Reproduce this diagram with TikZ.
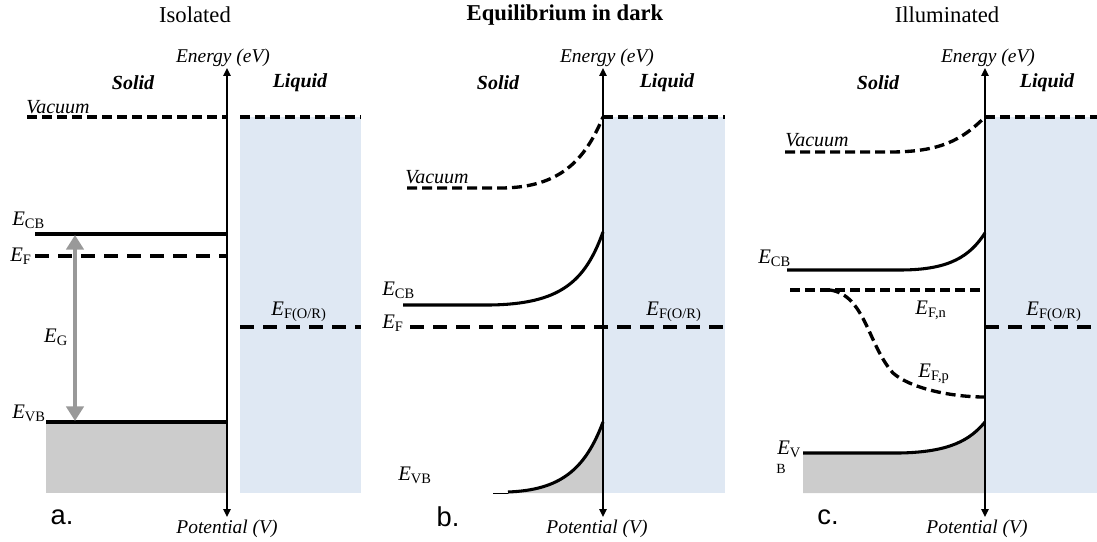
\documentclass[tikz,border=0pt]{standalone}
\usepackage{fontspec}
\setmainfont{Liberation Serif}
\newfontfamily\panelfont{Liberation Sans}
\usetikzlibrary{arrows.meta}
\definecolor{liquidblue}{RGB}{223,232,243}
\definecolor{bandgray}{RGB}{204,204,204}
\definecolor{arrowgray}{RGB}{153,153,153}
\newcommand{\En}[1]{\textit{E}\textsubscript{#1}}
\begin{document}
\begin{tikzpicture}[x=0.75pt,y=-0.75pt,
  lbl/.style={inner sep=0pt, font=\fontsize{15.5}{18}\selectfont},
  ilbl/.style={inner sep=0pt, font=\fontsize{15}{18}\selectfont\itshape},
  ttl/.style={inner sep=0pt, font=\fontsize{17}{20}\selectfont},
  axlbl/.style={inner sep=0pt, font=\fontsize{14.6}{17}\selectfont\itshape},
  phase/.style={inner sep=0pt, font=\fontsize{15}{18}\selectfont\bfseries\itshape},
  panel/.style={inner sep=0pt, font=\panelfont\fontsize{20.5}{24}\selectfont},
  band/.style={line width=2.3pt},
  lvlA/.style={line width=2.5pt, dash pattern=on 7.5pt off 3.75pt},
  lvlB/.style={line width=2.5pt, dash pattern=on 10.5pt off 6.75pt},
  axis/.style={line width=1.1pt, {Triangle[length=6pt,width=5.5pt]}-{Triangle[length=6pt,width=5.5pt]}},
  liquid/.style={fill=liquidblue},
  solidfill/.style={fill=bandgray},
  gaparrow/.style={draw=arrowgray, line width=3pt, {Triangle[length=11pt,width=13pt]}-{Triangle[length=11pt,width=13pt]}}
]
\useasboundingbox (0,0) rectangle (1097,542);

% ================= Panel a =================
\fill[liquid] (240,117) rectangle (361,493);
\fill[solidfill] (46,422) rectangle (227,493);
\draw[lvlA] (27,117) -- (227,117);
\draw[lvlA] (240,117) -- (361,117);
\draw[band] (35,234) -- (227,234);
\draw[lvlB] (35,256) -- (227,256);
\draw[band] (46,422) -- (227,422);
\draw[lvlB] (240,327) -- (361,327);
\coordinate (gapT) at (75,235);
\coordinate (gapB) at (75,421);
\draw[gaparrow] (gapB) -- (gapT);
\coordinate (axaT) at (227,68);
\coordinate (axaB) at (227,517);
\draw[axis] (axaB) -- (axaT);

\node[ttl] (ta) at (195,15) {Isolated};
\node[axlbl] (ena) at (223,58) {Energy (eV)};
\node[phase] (sa) at (133,83) {Solid};
\node[phase] (la) at (300,83) {Liquid};
\node[ilbl, anchor=west] (va) at (26,107) {Vacuum};
\node[lbl, anchor=west] (cba) at (12,220) {\En{CB}};
\node[lbl, anchor=west] (fa) at (10,256) {\En{F}};
\node[lbl] (ga) at (56,337) {\En{G}};
\node[lbl, anchor=west] (vba) at (12,413) {\En{VB}};
\node[lbl] (ora) at (299,312) {\En{F(O/R)}};
\node[panel] (pa) at (62,517) {a.};
\node[axlbl] (pota) at (227,529) {Potential (V)};

% ================= Panel b =================
\fill[liquid] (603,117) rectangle (725,493);
\fill[solidfill] (508,493) .. controls (560,490) and (585,470) .. (603,422) -- (603,493) -- cycle;
\draw[lvlA] (407,188) -- (500,188) .. controls (560,188) and (585,160) .. (603,117);
\draw[lvlA] (603,117) -- (725,117);
\draw[band] (403,305) -- (490,305) .. controls (560,304) and (585,282) .. (603,232);
\draw[lvlB] (410,327) -- (725,327);
\draw[band] (508,492) .. controls (560,490) and (585,470) .. (603,422);
\draw[line width=0.5pt] (493,493) -- (508,493);
\coordinate (axbT) at (603,68);
\coordinate (axbB) at (603,517);
\draw[axis] (axbB) -- (axbT);

\node[ttl, font=\fontsize{17}{20}\selectfont\bfseries] (tb) at (565,15) {Equilibrium in dark};
\node[axlbl] (enb) at (607,58) {Energy (eV)};
\node[phase] (sb) at (498,83) {Solid};
\node[phase] (lb) at (667,83) {Liquid};
\node[ilbl, anchor=west] (vb) at (405,177) {Vacuum};
\node[lbl, anchor=west] (cbb) at (382,290) {\En{CB}};
\node[lbl, anchor=west] (fb) at (382,323) {\En{F}};
\node[lbl] (orb) at (674,312) {\En{F(O/R)}};
\node[lbl, anchor=west] (vbb) at (398,475) {\En{VB}};
\node[panel] (pb) at (448,517) {b.};
\node[axlbl] (potb) at (597,529) {Potential (V)};

% ================= Panel c =================
\fill[liquid] (985,117) rectangle (1097,493);
\fill[solidfill] (803,453) -- (900,453) .. controls (950,452) and (970,440) .. (985,422) -- (985,493) -- (803,493) -- cycle;
\draw[lvlA] (785,152) -- (890,152) .. controls (940,152) and (962,140) .. (985,117);
\draw[lvlA] (985,117) -- (1097,117);
\draw[band] (787,270) -- (900,270) .. controls (950,270) and (970,256) .. (985,233);
\draw[lvlA] (790,290) -- (985,290);
\draw[lvlA] (830,290) .. controls (865,295) and (868,345) .. (893,373) .. controls (910,388) and (950,397) .. (985,397);
\draw[lvlB] (985,327) -- (1097,327);
\draw[band] (803,453) -- (900,453) .. controls (950,452) and (970,440) .. (985,422);
\coordinate (axcT) at (985,68);
\coordinate (axcB) at (985,517);
\draw[axis] (axcB) -- (axcT);

\node[ttl] (tc) at (947,15) {Illuminated};
\node[axlbl] (enc) at (988,58) {Energy (eV)};
\node[phase] (sc) at (878,83) {Solid};
\node[phase] (lc) at (1047,83) {Liquid};
\node[ilbl, anchor=west] (vc) at (785,140) {Vacuum};
\node[lbl, anchor=west] (cbc) at (758,258) {\En{CB}};
\node[lbl] (fnc) at (931,310) {\En{F,n}};
\node[lbl] (fpc) at (934,374) {\En{F,p}};
\node[lbl] (orc) at (1054,312) {\En{F(O/R)}};
\node[lbl, anchor=west] (vbc) at (777,449) {\En{V}};
\node[inner sep=0pt, font=\fontsize{10.5}{12}\selectfont] (vbcb) at (781,469) {B};
\node[panel] (pc) at (828,517) {c.};
\node[axlbl] (potc) at (977,529) {Potential (V)};
\end{tikzpicture}
\end{document}
